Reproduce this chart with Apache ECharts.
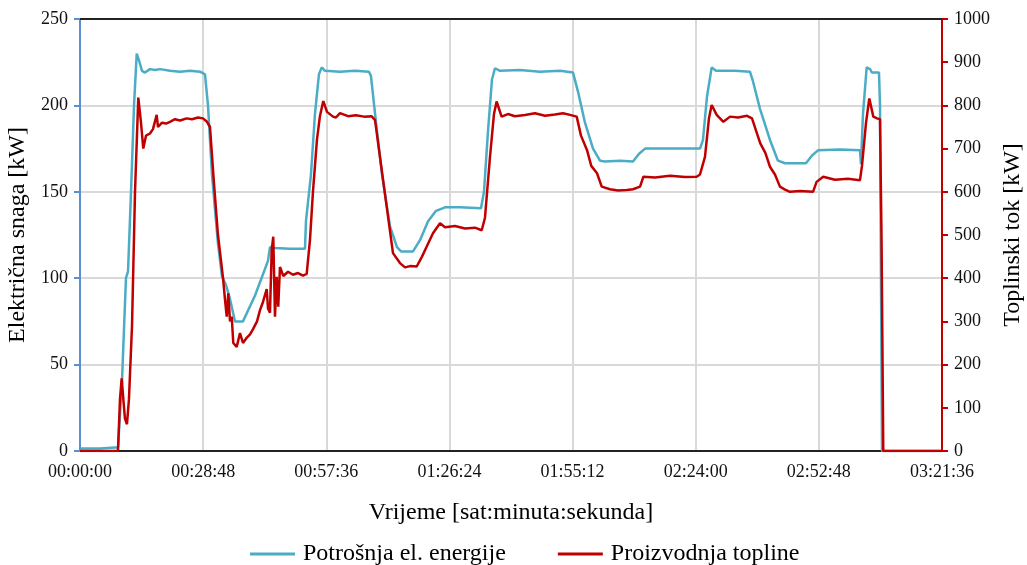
<!DOCTYPE html>
<html>
<head>
<meta charset="utf-8">
<script src="https://cdn.jsdelivr.net/npm/echarts@6/dist/echarts.min.js"></script>
<style>
  html, body { margin: 0; padding: 0; background: #fff; }
  #chart { width: 1027px; height: 565px; }
</style>
</head>
<body>
<div id="chart"></div>
<script>
  // vrijeme u sekundama od pocetka mjerenja
  const timeEl = [0, 281, 491, 533, 589, 645, 674, 716, 758, 796, 828, 870, 912, 982, 1052, 1123, 1263, 1403, 1544, 1684,
    1754, 1796, 1852, 1936, 1993, 2021, 2049, 2105, 2175, 2287, 2456, 2638, 2666, 2736, 2947, 3157, 3171, 3199, 3241, 3297,
    3353, 3392, 3438, 3648, 3859, 4055, 4083, 4154, 4238, 4350, 4448, 4505, 4673, 4771, 4884, 4996, 5122, 5332, 5627, 5669,
    5725, 5781, 5823, 5894, 6174, 6455, 6736, 6918, 6988, 7086, 7199, 7297, 7367, 7578, 7760, 7845, 7929, 8279, 8700, 8742,
    8798, 8864, 8924, 9191, 9401, 9443, 9542, 9682, 9794, 9893, 10187, 10272, 10356, 10665, 10945, 10959, 10987, 11039, 11086, 11114,
    11212, 11226, 11240, 11254, 12096];
  const powerEl = [1.5, 1.5, 2, 2, 40, 100, 104, 150, 200, 230, 226, 220, 219, 221, 220.5, 221, 220, 219.5, 220, 219.5,
    218, 200, 160, 120, 101, 100, 96, 88, 75, 75, 90, 110, 118, 117.5, 117, 117, 133, 134, 160, 195,
    218, 222, 220, 219.5, 220, 219.5, 217, 190, 160, 130, 118, 115.5, 115.5, 122, 133, 139, 141, 141, 140.5, 150,
    185, 215, 221.5, 220, 220.5, 219.5, 220, 219, 208, 190, 175, 168, 167.5, 168, 167.5, 172, 175, 175, 175, 180,
    205, 222, 220, 220, 219.5, 214, 198, 180, 168, 166.5, 166.5, 171, 174, 174.5, 174, 166, 195, 222, 221, 219,
    219, 200, 100, 0, 0];

  const timeHeat = [0, 533, 561, 585, 603, 631, 659, 687, 730, 772, 818, 856, 888, 926, 982, 1024, 1076, 1094, 1151, 1207,
    1263, 1333, 1403, 1497, 1572, 1656, 1726, 1782, 1824, 1880, 1936, 1979, 2007, 2035, 2059, 2081, 2105, 2129, 2151, 2199,
    2245, 2287, 2339, 2386, 2428, 2484, 2526, 2568, 2620, 2638, 2666, 2690, 2712, 2736, 2760, 2782, 2806, 2853, 2919, 2989,
    3059, 3129, 3181, 3227, 3269, 3325, 3367, 3414, 3466, 3550, 3592, 3648, 3761, 3873, 3985, 4093, 4140, 4210, 4304, 4392,
    4490, 4561, 4631, 4725, 4799, 4864, 4953, 5052, 5122, 5262, 5402, 5543, 5637, 5683, 5753, 5809, 5846, 5916, 6005, 6103,
    6244, 6384, 6525, 6665, 6777, 6876, 6970, 7030, 7114, 7174, 7255, 7321, 7437, 7550, 7672, 7760, 7859, 7906, 8070, 8279,
    8490, 8654, 8700, 8770, 8826, 8864, 8934, 8981, 9028, 9122, 9234, 9360, 9430, 9490, 9546, 9617, 9682, 9752, 9822, 9893,
    9963, 10104, 10286, 10336, 10429, 10594, 10776, 10945, 10973, 11030, 11076, 11132, 11184, 11226, 11247, 11272, 12096];
  const heatFlow = [0, 0, 120, 168, 130, 75, 62, 120, 290, 600, 818, 760, 700, 730, 735, 745, 778, 750, 760, 758,
    762, 768, 765, 770, 768, 772, 770, 762, 750, 620, 500, 440, 400, 350, 311, 365, 300, 311, 250, 241,
    273, 250, 262, 270, 282, 300, 326, 345, 375, 330, 320, 465, 496, 311, 403, 334, 426, 405, 415, 408,
    412, 406, 410, 488, 600, 720, 775, 810, 785, 774, 772, 782, 775, 777, 774, 775, 766, 680, 565, 458,
    435, 425, 428, 427, 450, 473, 504, 527, 518, 521, 515, 517, 511, 540, 680, 780, 809, 774, 780, 775,
    778, 782, 776, 779, 782, 778, 774, 730, 697, 660, 643, 612, 606, 603, 604, 606, 612, 635, 633, 637,
    634, 635, 640, 681, 770, 801, 778, 770, 762, 774, 772, 776, 770, 740, 712, 690, 658, 640, 612, 605,
    600, 602, 600, 623, 635, 628, 630, 627, 660, 760, 816, 774, 770, 768, 500, 0, 0];

  const tMax = 12096;
  const tStep = 1728;

  function pad(n) { return n < 10 ? '0' + n : '' + n; }
  function fmtTime(s) {
    const h = Math.floor(s / 3600);
    const m = Math.floor((s % 3600) / 60);
    const sec = Math.round(s % 60);
    return pad(h) + ':' + pad(m) + ':' + pad(sec);
  }

  const elData = timeEl.map((t, i) => [t, powerEl[i]]);
  const heatData = timeHeat.map((t, i) => [t, heatFlow[i]]);

  const font = '"Liberation Serif", "Times New Roman", serif';
  const chart = echarts.init(document.getElementById('chart'));
  chart.setOption({
    animation: false,
    textStyle: { fontFamily: font, color: '#000' },
    grid: { left: 80, right: 85, top: 19, bottom: 114, outerBoundsMode: 'none', containLabel: false },
    legend: {
      top: 537,
      left: 245,
      itemWidth: 45,
      itemHeight: 3,
      itemGap: 52,
      icon: 'rect',
      textStyle: { fontFamily: font, fontSize: 24, color: '#000', padding: [0, 0, 0, 3] },
      data: ['Potrošnja el. energije', 'Proizvodnja topline']
    },
    xAxis: [{
      type: 'value',
      min: 0,
      max: tMax,
      interval: tStep,
      name: 'Vrijeme [sat:minuta:sekunda]',
      nameLocation: 'middle',
      nameGap: 50,
      nameTextStyle: { fontFamily: font, fontSize: 24, color: '#000' },
      axisLine: { onZero: false, lineStyle: { color: '#222', width: 2 } },
      axisTick: { show: false },
      axisLabel: { formatter: fmtTime, fontFamily: font, fontSize: 18, color: '#111', margin: 12 },
      splitLine: { show: true, lineStyle: { color: '#d9d9d9', width: 2 } }
    }, {
      type: 'value',
      position: 'top',
      min: 0,
      max: tMax,
      axisLine: { show: true, onZero: false, lineStyle: { color: '#222', width: 2 } },
      axisTick: { show: false },
      axisLabel: { show: false },
      splitLine: { show: false }
    }],
    yAxis: [{
      type: 'value',
      position: 'left',
      min: 0,
      max: 250,
      interval: 50,
      name: 'Električna snaga [kW]',
      nameLocation: 'middle',
      nameGap: 46,
      nameTextStyle: { fontFamily: font, fontSize: 24, color: '#000' },
      axisLine: { show: true, onZero: false, lineStyle: { color: '#5b8fd0', width: 2 } },
      axisTick: { show: true, length: 6, lineStyle: { color: '#5b8fd0', width: 2 } },
      axisLabel: { fontFamily: font, fontSize: 18, color: '#111', margin: 12 },
      splitLine: { show: true, lineStyle: { color: '#d9d9d9', width: 2 } }
    }, {
      type: 'value',
      position: 'right',
      min: 0,
      max: 1000,
      interval: 100,
      name: 'Toplinski tok [kW]',
      nameLocation: 'middle',
      nameGap: 57,
      nameTextStyle: { fontFamily: font, fontSize: 24, color: '#000' },
      axisLine: { show: true, onZero: false, lineStyle: { color: '#c00000', width: 2 } },
      axisTick: { show: true, length: 6, lineStyle: { color: '#c00000', width: 2 } },
      axisLabel: { formatter: v => String(v), fontFamily: font, fontSize: 18, color: '#111', margin: 12 },
      splitLine: { show: false }
    }],
    series: [{
      name: 'Potrošnja el. energije',
      type: 'line',
      yAxisIndex: 0,
      data: elData,
      showSymbol: false,
      color: '#4bacc6',
      lineStyle: { width: 2.5, color: '#4bacc6' }
    }, {
      name: 'Proizvodnja topline',
      type: 'line',
      yAxisIndex: 1,
      data: heatData,
      showSymbol: false,
      color: '#c00000',
      lineStyle: { width: 2.5, color: '#c00000' }
    }]
  });
</script>
</body>
</html>
